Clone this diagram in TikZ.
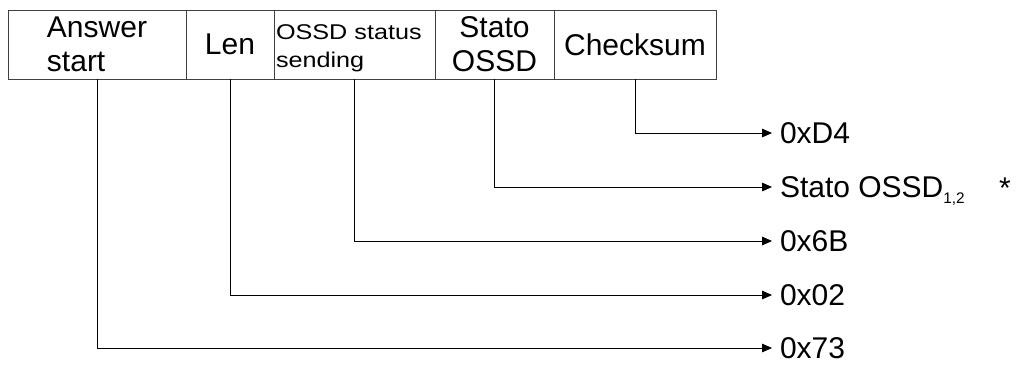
\documentclass[tikz,border=0pt]{standalone}
\usepackage{fontspec}
\setmainfont{Liberation Sans}
\newfontfamily\widesans[FakeStretch=1.18]{Liberation Sans}
\usetikzlibrary{positioning, arrows.meta}

\begin{document}
\begin{tikzpicture}[
    x=0.75pt, y=-0.75pt,
    node distance=0pt,
    field/.style = {rectangle, draw=black!75, line width=0.6pt, outer sep=0pt, inner sep=1.5pt, minimum width=#1, minimum height=51.75pt, font=\fontsize{22.5}{25.5}\selectfont},
    value/.style = {anchor=west, outer sep=0pt, inner xsep=6pt, inner ysep=0pt, text height=16pt, text depth=0pt, font=\fontsize{22.5}{25}\selectfont},
    arrow/.style = {-{Triangle[length=7.5pt, width=6.5pt]}, line width=0.6pt}
]
\useasboundingbox (0,0) rectangle (1016,365);

% Frame fields, side by side
\node[field=133.5pt, align=left, anchor=north west] (start) at (8,10) {Answer\\start};
\node[field=66pt, right=of start] (len) {Len};
\node[field=120.75pt, right=of len, align=left, text width=117.75pt, text height=12pt, text depth=18.8pt, font=\widesans\fontsize{16}{20.5}\selectfont] (sending) {OSSD status\\sending};
\node[field=89.25pt, right=of sending, align=center] (stato) {Stato\\OSSD};
\node[field=121.5pt, right=of stato] (checksum) {Checksum};

% Byte values
\node[value] (vD4) at (772,133) {0xD4};
\node[value] (vstato) at (772,187) {Stato OSSD\raisebox{-4.5pt}{\fontsize{11.5}{12}\selectfont 1,2}};
\node[value] (v6B) at (772,241) {0x6B};
\node[value] (v02) at (772,295) {0x02};
\node[value] (v73) at (772,348) {0x73};
\node[anchor=base, font=\fontsize{22.5}{25}\selectfont] (mark) at (1005,198) {*};

% Arrows
\draw[arrow] (checksum.south) |- (vD4);
\draw[arrow] (stato.south) |- (vstato);
\draw[arrow] (sending.south) |- (v6B);
\draw[arrow] (len.south) |- (v02);
\draw[arrow] (start.south) |- (v73);

\end{tikzpicture}
\end{document}
